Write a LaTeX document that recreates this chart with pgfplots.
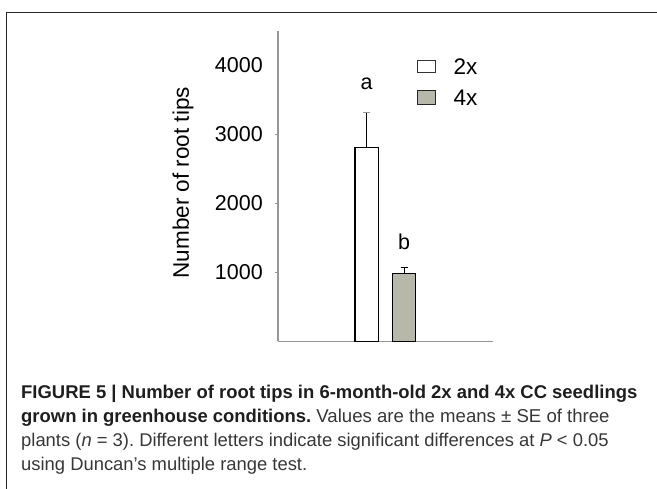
\documentclass[border=0pt]{standalone}
\usepackage{fontspec}
\setmainfont{Liberation Sans}
\usepackage{pgfplots}
\pgfplotsset{compat=1.18}
\definecolor{barg}{RGB}{184,184,170}
\definecolor{axgray}{RGB}{150,150,150}
\definecolor{captxt}{RGB}{55,55,55}
\definecolor{capbold}{RGB}{30,30,30}
\frenchspacing
\begin{document}
\begin{tikzpicture}[x=1bp,y=1bp]
\path[use as bounding box] (0,0) rectangle (657,-489);
\draw[line width=0.9bp, black!85] (6,-490) -- (6,-12) -- (658,-12);
\begin{axis}[
  at={(278bp,-341.3bp)}, anchor=south west,
  scale only axis, width=215bp, height=310.5bp,
  xmin=0, xmax=215, ymin=0, ymax=4500,
  axis lines=left, axis line style={axgray, line width=1.2bp, -},
  xtick=\empty,
  ytick={1000,2000,3000}, extra y ticks={4000},
  extra y tick style={major tick style={draw=none}},
  ytick align=outside, major tick length=3.5bp,
  tick style={axgray, line width=0.8bp},
  /pgf/number format/assume math mode=true,
  /pgf/number format/1000 sep={},
  scaled y ticks=false,
  yticklabel style={font=\fontsize{21.5bp}{24bp}\selectfont, inner sep=0pt, xshift=-11.5bp},
  ylabel={Number of root tips},
  every axis y label/.style={at={(rel axis cs:-0.415,0.5105)}, rotate=90, anchor=base, font=\fontsize{22.5bp}{26bp}\selectfont},
  legend style={at={(axis cs:138.7,4100)}, anchor=north west, draw=none, fill=none,
    inner sep=0pt, outer sep=0pt, row sep=15bp,
    font=\fontsize{22.5bp}{26bp}\selectfont,
    /tikz/every odd column/.append style={column sep=18bp},
    nodes={inner sep=0pt, text height=16bp, text depth=0bp}},
  legend cell align=left,
  clip=false,
]
\addplot[ybar, bar width=23.3bp, bar shift=0pt, fill=white, draw=black, line width=1.2bp,
  legend image code/.code={\draw[fill=white, draw=black!80, line width=1bp] (0bp,-6bp) rectangle (18bp,6bp);},
  error bars/.cd, y dir=plus, y explicit,
  error bar style={black, line width=1bp},
  error mark options={rotate=90, axgray, line width=1bp, mark size=3.5bp}]
  coordinates {(88.7,2806) +- (0,507)};
\addlegendentry{2x}
\addplot[ybar, bar width=23bp, bar shift=0pt, fill=barg, draw=black, line width=1bp,
  legend image code/.code={\draw[fill=barg, draw=black!85, line width=1bp] (0bp,-7bp) rectangle (18bp,7bp);},
  error bars/.cd, y dir=plus, y explicit,
  error bar style={black, line width=1bp},
  error mark options={rotate=90, black, line width=1bp, mark size=3.5bp}]
  coordinates {(126.2,985) +- (0,87)};
\addlegendentry{4x}
\node[font=\fontsize{21.5bp}{24bp}\selectfont, inner sep=0pt] at (axis cs:88.7,3725) {a};
\node[font=\fontsize{21.5bp}{24bp}\selectfont, inner sep=0pt] at (axis cs:126.2,1435) {b};
\end{axis}
\begin{scope}[every node/.style={anchor=base west, inner sep=0pt}]
\node[text=capbold, font=\fontsize{18.45bp}{24bp}\selectfont] at (21,-398.5) {\textbf{FIGURE 5 | Number of root tips in 6-month-old 2x and 4x CC seedlings}};
\node[text=captxt, font=\fontsize{18.6bp}{24bp}\selectfont] at (21,-422.5) {\textcolor{capbold}{\fontsize{18.45bp}{24bp}\selectfont\textbf{grown in greenhouse conditions.}} Values are the means ± SE of three};
\node[text=captxt, font=\fontsize{18.4bp}{24bp}\selectfont] at (21,-446.5) {plants (\textit{n} = 3). Different letters indicate significant differences at \textit{P} < 0.05};
\node[text=captxt, font=\fontsize{18.4bp}{24bp}\selectfont] at (21,-470.5) {using Duncan’s multiple range test.};
\end{scope}
\end{tikzpicture}
\end{document}
